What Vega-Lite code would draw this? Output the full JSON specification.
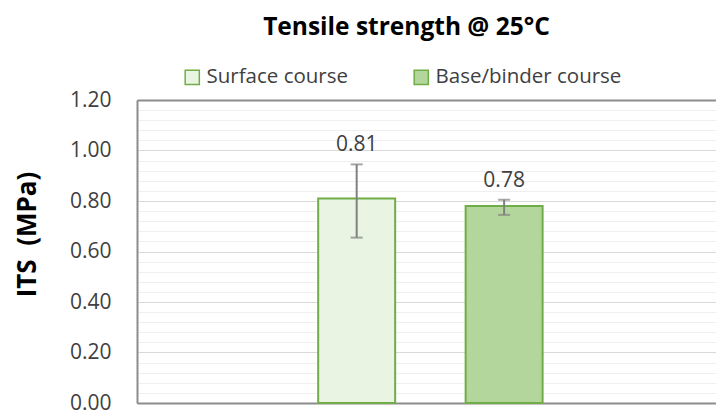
{
  "$schema": "https://vega.github.io/schema/vega-lite/v6.json",
  "autosize": {"type": "none"},
  "padding": {"left": 137, "top": 100, "right": 0, "bottom": 8},
  "width": 579,
  "height": 303,
  "background": "white",
  "config": {
    "view": {"stroke": null},
    "font": "Open Sans"
  },
  "title": {
    "text": "Tensile strength @ 25°C",
    "font": "Open Sans",
    "fontSize": 24.5,
    "fontWeight": "bold",
    "color": "#000000",
    "anchor": "middle",
    "frame": "group",
    "baseline": "alphabetic",
    "dx": -20,
    "offset": 8
  },
  "data": {
    "values": [
      {"group": "ITS", "series": "Surface course", "value": 0.81, "lo": 0.655, "hi": 0.945},
      {"group": "ITS", "series": "Base/binder course", "value": 0.78, "lo": 0.745, "hi": 0.805}
    ]
  },
  "resolve": {"axis": {"x": "independent", "y": "independent"}},
  "layer": [
    {
      "mark": {"type": "bar", "stroke": "#70ad47", "strokeWidth": 2},
      "encoding": {
        "x": {
          "field": "group",
          "type": "nominal",
          "scale": {"type": "band", "paddingInner": 0, "paddingOuter": 0.79, "align": 0.511},
          "axis": {"orient": "bottom", "labels": false, "ticks": false, "title": null, "grid": false, "domainColor": "#8c8c8c", "domainWidth": 2}
        },
        "xOffset": {
          "field": "series",
          "type": "nominal",
          "sort": ["Surface course", "Base/binder course"],
          "scale": {"type": "band", "paddingInner": 0.478, "paddingOuter": 0}
        },
        "y": {
          "field": "value",
          "type": "quantitative",
          "scale": {"domain": [0, 1.2], "nice": false, "zero": true},
          "title": "ITS\u00a0\u00a0(MPa)",
          "axis": {
            "values": [0, 0.04, 0.08, 0.12, 0.16, 0.2, 0.24, 0.28, 0.32, 0.36, 0.4, 0.44, 0.48, 0.52, 0.56, 0.6, 0.64, 0.68, 0.72, 0.76, 0.8, 0.84, 0.88, 0.92, 0.96, 1.0, 1.04, 1.08, 1.12, 1.16, 1.2],
            "labelExpr": "abs(datum.value*5 - round(datum.value*5)) < 0.001 ? format(datum.value, '.2f') : ''",
            "gridColor": {"condition": {"test": "abs(datum.value*5 - round(datum.value*5)) < 0.001", "value": "#d9d9d9"}, "value": "#efefef"},
            "grid": true,
            "gridWidth": 1,
            "ticks": false,
            "labelPadding": 26,
            "labelFont": "Open Sans",
            "labelFontSize": 21,
            "labelColor": "#404040",
            "labelOverlap": false,
            "labelBound": false,
            "labelFlush": false,
            "domainColor": "#8c8c8c",
            "domainWidth": 2,
            "titleFont": "Open Sans",
            "titleFontSize": 26,
            "titleFontWeight": "bold",
            "titleColor": "#000000",
            "titleAngle": -90,
            "titleAlign": "center",
            "titleBaseline": "middle",
            "titleX": -110,
            "titleY": 134
          }
        },
        "color": {
          "field": "series",
          "type": "nominal",
          "sort": ["Surface course", "Base/binder course"],
          "scale": {"domain": ["Surface course", "Base/binder course"], "range": ["#eaf4e3", "#b3d69c"]},
          "legend": {
            "orient": "none",
            "direction": "horizontal",
            "legendX": 45,
            "legendY": -33,
            "title": null,
            "symbolType": "square",
            "symbolSize": 200,
            "symbolStrokeColor": "#70ad47",
            "symbolStrokeWidth": 1.5,
            "symbolOpacity": 1,
            "labelFont": "Open Sans",
            "labelFontSize": 20.5,
            "labelColor": "#404040",
            "labelOffset": 4,
            "columnPadding": 62,
            "labelLimit": 400
          }
        }
      }
    },
    {
      "mark": {"type": "rule", "color": "#808080", "strokeWidth": 2},
      "encoding": {
        "x": {
          "field": "group",
          "type": "nominal",
          "scale": {"type": "band", "paddingInner": 0, "paddingOuter": 0.79, "align": 0.511},
          "axis": {"orient": "top", "labels": false, "ticks": false, "title": null, "grid": false, "domainColor": "#8c8c8c", "domainWidth": 2}
        },
        "xOffset": {"field": "series", "type": "nominal", "sort": ["Surface course", "Base/binder course"], "scale": {"type": "band", "paddingInner": 0.478, "paddingOuter": 0}},
        "y": {"field": "lo", "type": "quantitative", "axis": null},
        "y2": {"field": "hi"}
      }
    },
    {
      "mark": {"type": "tick", "color": "#808080", "thickness": 2, "size": 12},
      "encoding": {
        "x": {"field": "group", "type": "nominal", "scale": {"type": "band", "paddingInner": 0, "paddingOuter": 0.79, "align": 0.511}, "axis": null},
        "xOffset": {"field": "series", "type": "nominal", "sort": ["Surface course", "Base/binder course"], "scale": {"type": "band", "paddingInner": 0.478, "paddingOuter": 0}},
        "y": {"field": "lo", "type": "quantitative", "axis": null}
      }
    },
    {
      "mark": {"type": "tick", "color": "#808080", "thickness": 2, "size": 12},
      "encoding": {
        "x": {"field": "group", "type": "nominal", "scale": {"type": "band", "paddingInner": 0, "paddingOuter": 0.79, "align": 0.511}, "axis": null},
        "xOffset": {"field": "series", "type": "nominal", "sort": ["Surface course", "Base/binder course"], "scale": {"type": "band", "paddingInner": 0.478, "paddingOuter": 0}},
        "y": {"field": "hi", "type": "quantitative", "axis": null}
      }
    },
    {
      "mark": {"type": "text", "font": "Open Sans", "fontSize": 21, "color": "#404040", "baseline": "alphabetic", "dy": -13},
      "encoding": {
        "x": {"field": "group", "type": "nominal", "scale": {"type": "band", "paddingInner": 0, "paddingOuter": 0.79, "align": 0.511}, "axis": null},
        "xOffset": {"field": "series", "type": "nominal", "sort": ["Surface course", "Base/binder course"], "scale": {"type": "band", "paddingInner": 0.478, "paddingOuter": 0}},
        "y": {"field": "hi", "type": "quantitative", "axis": null},
        "text": {"field": "value", "type": "quantitative", "format": ".2f"}
      }
    }
  ]
}
